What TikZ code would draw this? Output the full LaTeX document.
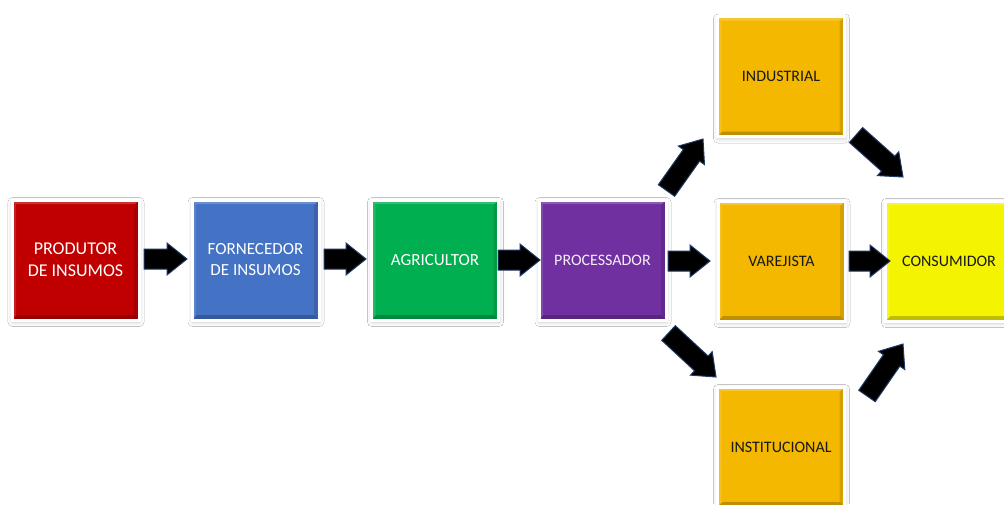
\documentclass[tikz,border=0pt]{standalone}
\usepackage{fontspec}
\setmainfont{Carlito}
\usetikzlibrary{calc,shadows.blur}

\definecolor{cRed}{HTML}{C00000}
\definecolor{cBlue}{HTML}{4472C4}
\definecolor{cGreen}{HTML}{00B050}
\definecolor{cPurple}{HTML}{7030A0}
\definecolor{cAmber}{HTML}{F4B800}
\definecolor{cYellow}{HTML}{F4F400}
\definecolor{cOutline}{HTML}{1F3864}

\tikzset{
  stagebox/.style={
    rectangle, minimum width=127pt, minimum height=120pt, inner sep=2pt,
    draw=white, line width=3pt, align=center,
    blur shadow={shadow xshift=0.5pt, shadow yshift=-2pt,
                 shadow blur radius=4.5pt, shadow blur steps=8, shadow opacity=22},
    path picture={
      % bottom bevel
      \fill[black,opacity=.22]
        (path picture bounding box.south west) -- (path picture bounding box.south east)
        -- ([shift={(-5pt,5pt)}]path picture bounding box.south east)
        -- ([shift={(5pt,5pt)}]path picture bounding box.south west) -- cycle;
      % right bevel
      \fill[black,opacity=.12]
        (path picture bounding box.south east) -- (path picture bounding box.north east)
        -- ([shift={(-5pt,-5pt)}]path picture bounding box.north east)
        -- ([shift={(-5pt,5pt)}]path picture bounding box.south east) -- cycle;
      % top highlight
      \fill[white,opacity=.2]
        (path picture bounding box.north west) -- (path picture bounding box.north east)
        -- ([shift={(-4pt,-4pt)}]path picture bounding box.north east)
        -- ([shift={(4pt,-4pt)}]path picture bounding box.north west) -- cycle;
      % left highlight
      \fill[white,opacity=.12]
        (path picture bounding box.north west) -- (path picture bounding box.south west)
        -- ([shift={(4pt,5pt)}]path picture bounding box.south west)
        -- ([shift={(4pt,-4pt)}]path picture bounding box.north west) -- cycle;
    }},
  lighttext/.style={text=white},
  darktext/.style={text=black!90},
  blockarrowstyle/.style={fill=black, draw=cOutline, line width=1pt, line join=miter}
}

% block arrow from #1 (tail) to #2 (tip)
\newcommand\blockarrow[2]{%
  \coordinate (ba-head) at ($(#2)!20pt!(#1)$);
  \filldraw[blockarrowstyle]
    ($(#1)!10pt!90:(#2)$) -- ($(ba-head)!10pt!-90:(#1)$)
    -- ($(ba-head)!16pt!-90:(#1)$) -- (#2)
    -- ($(ba-head)!16pt!90:(#1)$) -- ($(ba-head)!10pt!90:(#1)$)
    -- ($(#1)!10pt!-90:(#2)$) -- cycle;}

\begin{document}
\begin{tikzpicture}[x=1pt,y=-1pt]
  \useasboundingbox[fill=white] (0,0) rectangle (1004,504);

  % supply-chain stages
  \node[stagebox, fill=cRed, lighttext, font=\fontsize{18}{22}\selectfont]
    (prod) at (75.5,260) {PRODUTOR\\DE INSUMOS};
  \node[stagebox, fill=cBlue, lighttext, font=\fontsize{17}{21}\selectfont]
    (forn) at (255.5,260) {FORNECEDOR\\DE INSUMOS};
  \node[stagebox, fill=cGreen, lighttext, font=\fontsize{17}{21}\selectfont]
    (agri) at (435,260) {AGRICULTOR};
  \node[stagebox, fill=cPurple, text=white!92!cPurple, font=\fontsize{16}{20}\selectfont]
    (proc) at (602.5,260) {PROCESSADOR};
  \node[stagebox, fill=cAmber, darktext, font=\fontsize{16}{20}\selectfont]
    (ind) at (781,76.5) {INDUSTRIAL};
  \node[stagebox, fill=cAmber, darktext, font=\fontsize{16}{20}\selectfont]
    (var) at (781.5,261) {VAREJISTA};
  \node[stagebox, fill=cAmber, darktext, font=\fontsize{16}{20}\selectfont]
    (inst) at (781,447) {INSTITUCIONAL};
  \node[stagebox, fill=cYellow, darktext, font=\fontsize{16}{20}\selectfont]
    (cons) at (949,261) {CONSUMIDOR};

  % arrow end points
  \coordinate (t1) at ($(prod.east)+(3.5,-1)$);  \coordinate (h1) at ($(forn.west)+(-3.5,-1)$);
  \coordinate (t2) at ($(forn.east)+(3.5,-1)$);  \coordinate (h2) at ($(agri.west)+(-4,-1)$);
  \coordinate (t3) at ($(agri.east)+(-2,0)$);    \coordinate (h3) at ($(proc.west)+(2.5,0)$);
  \coordinate (t4) at ($(proc.east)+(0.5,1)$);   \coordinate (h4) at ($(var.west)+(-6.5,0)$);
  \coordinate (t5) at ($(var.east)+(2.5,0)$);    \coordinate (h5) at ($(cons.west)+(6,0)$);
  \coordinate (t6) at ($(proc.north east)+(-1,-8)$); \coordinate (h6) at ($(ind.south west)+(-13,1)$);
  \coordinate (t7) at ($(ind.south east)+(10,-3)$);  \coordinate (h7) at ($(cons.north west)+(19,-22.5)$);
  \coordinate (t8) at ($(proc.south east)+(1,11.5)$); \coordinate (h8) at ($(inst.north west)+(0,-8.5)$);
  \coordinate (t9) at ($(inst.north east)+(21,10.5)$); \coordinate (h9) at ($(cons.south west)+(19,21.5)$);

  % flows between stages
  \blockarrow{t1}{h1}
  \blockarrow{t2}{h2}
  \blockarrow{t3}{h3}
  \blockarrow{t4}{h4}
  \blockarrow{t5}{h5}
  \blockarrow{t6}{h6}
  \blockarrow{t7}{h7}
  \blockarrow{t8}{h8}
  \blockarrow{t9}{h9}
\end{tikzpicture}
\end{document}
